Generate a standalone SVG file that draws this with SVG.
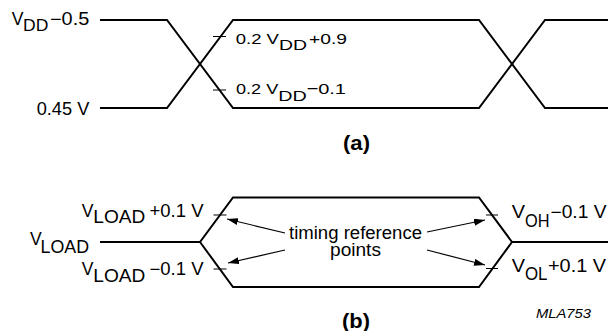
<svg xmlns="http://www.w3.org/2000/svg" width="608" height="331" viewBox="0 0 608 331">
<style>
.w{fill:none;stroke:#000;stroke-width:2;stroke-linejoin:miter}
.tk{fill:none;stroke:#000;stroke-width:1}
.ar{fill:none;stroke:#000;stroke-width:1.2}
text{font-family:"Liberation Sans",Arial,sans-serif;fill:#000}
.s16{font-size:17.5px}
.s14{font-size:15.5px}
.s18{font-size:18px}
.b{font-weight:bold;font-size:19.5px}
.it{font-style:italic;font-size:12.5px}
</style>
<defs>
<marker id="ah" markerUnits="userSpaceOnUse" markerWidth="11" markerHeight="7" refX="11" refY="3.5" orient="auto">
<path d="M0,0 L11,3.5 L0,7 z" fill="#000"/>
</marker>
</defs>
<g id="connectors">
<path class="w" d="M100,20 H167 L233,108 H479 L545,20 H608"/>
<path class="w" d="M100,108 H167 L233,20 H479 L545,108 H608"/>
<path class="tk" d="M213,36.5 H226 M213,90 H226"/>
<path class="w" d="M100,242 H200 L233,197.5 H479 L512,242 H608"/>
<path class="w" d="M200,242 L233,287 H479 L512,242"/>
<path class="tk" d="M213.5,215 H226.5 M213.5,269 H226.5 M486,215 H498 M486,268.5 H498"/>
<line class="ar" x1="285" y1="233" x2="227" y2="219" marker-end="url(#ah)"/>
<line class="ar" x1="285" y1="250" x2="228" y2="263" marker-end="url(#ah)"/>
<line class="ar" x1="427" y1="232" x2="485" y2="220" marker-end="url(#ah)"/>
<line class="ar" x1="427" y1="250" x2="485" y2="265" marker-end="url(#ah)"/>
</g>
<g id="label-vdd-05">
<text class="s16"><tspan x="11.7" y="25" textLength="11.7" lengthAdjust="spacingAndGlyphs">V</tspan><tspan x="23" y="30.7" style="font-size:16.5px" textLength="25.3" lengthAdjust="spacingAndGlyphs">DD</tspan><tspan x="50" y="25" textLength="39.3" lengthAdjust="spacingAndGlyphs">−0.5</tspan></text>
</g>
<g id="label-045">
<text class="s16" x="36.7" y="114.5" textLength="52.6" lengthAdjust="spacingAndGlyphs">0.45 V</text>
</g>
<g id="label-02vdd-09">
<text class="s14"><tspan x="235.7" y="44" textLength="43.3" lengthAdjust="spacingAndGlyphs">0.2 V</tspan><tspan x="279" y="49.7" textLength="28" lengthAdjust="spacingAndGlyphs">DD</tspan><tspan x="309" y="44" textLength="38" lengthAdjust="spacingAndGlyphs">+0.9</tspan></text>
</g>
<g id="label-02vdd-01">
<text class="s14"><tspan x="236" y="94" textLength="42.3" lengthAdjust="spacingAndGlyphs">0.2 V</tspan><tspan x="278.3" y="101" textLength="28.5" lengthAdjust="spacingAndGlyphs">DD</tspan><tspan x="306.5" y="94" textLength="39.5" lengthAdjust="spacingAndGlyphs">−0.1</tspan></text>
</g>
<g id="caption-a">
<text class="b" x="343" y="149.5" textLength="27" lengthAdjust="spacingAndGlyphs">(a)</text>
</g>
<g id="label-vload-p01">
<text class="s16"><tspan x="81.7" y="216.7" textLength="11.7" lengthAdjust="spacingAndGlyphs">V</tspan><tspan x="93.3" y="223.3" textLength="52" lengthAdjust="spacingAndGlyphs">LOAD</tspan><tspan x="149.5" y="216.7" textLength="54" lengthAdjust="spacingAndGlyphs">+0.1 V</tspan></text>
</g>
<g id="label-vload">
<text class="s16"><tspan x="30" y="245" textLength="11.7" lengthAdjust="spacingAndGlyphs">V</tspan><tspan x="40.5" y="252.7" textLength="48.5" lengthAdjust="spacingAndGlyphs">LOAD</tspan></text>
</g>
<g id="label-vload-m01">
<text class="s16"><tspan x="81.7" y="275" textLength="11.7" lengthAdjust="spacingAndGlyphs">V</tspan><tspan x="93.3" y="281.7" textLength="52" lengthAdjust="spacingAndGlyphs">LOAD</tspan><tspan x="149.5" y="275" textLength="54" lengthAdjust="spacingAndGlyphs">−0.1 V</tspan></text>
</g>
<g id="label-voh">
<text class="s16"><tspan x="511.7" y="218.3" textLength="13.3" lengthAdjust="spacingAndGlyphs">V</tspan><tspan x="525" y="226.7" textLength="24.5" lengthAdjust="spacingAndGlyphs">OH</tspan><tspan x="550.5" y="218.3" textLength="56" lengthAdjust="spacingAndGlyphs">−0.1 V</tspan></text>
</g>
<g id="label-vol">
<text class="s16"><tspan x="511.7" y="271.7" textLength="13.3" lengthAdjust="spacingAndGlyphs">V</tspan><tspan x="525" y="280" textLength="22.5" lengthAdjust="spacingAndGlyphs">OL</tspan><tspan x="548" y="271.7" textLength="58" lengthAdjust="spacingAndGlyphs">+0.1 V</tspan></text>
</g>
<g id="label-timing">
<text class="s18"><tspan x="289" y="238.5" textLength="133" lengthAdjust="spacingAndGlyphs">timing reference</tspan><tspan x="330" y="256" textLength="51" lengthAdjust="spacingAndGlyphs">points</tspan></text>
</g>
<g id="caption-b">
<text class="b" x="342" y="327.5" textLength="28" lengthAdjust="spacingAndGlyphs">(b)</text>
</g>
<g id="code">
<text class="it" x="536" y="317.5" textLength="55" lengthAdjust="spacingAndGlyphs">MLA753</text>
</g>
</svg>
